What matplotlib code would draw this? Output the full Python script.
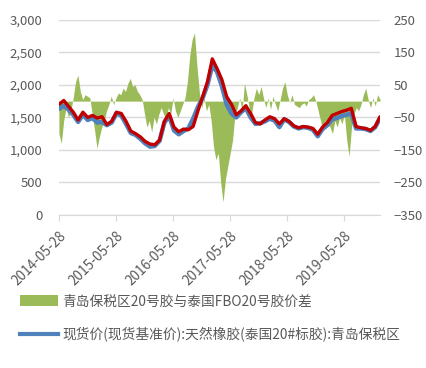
import matplotlib
matplotlib.use("Agg")
import matplotlib.pyplot as plt
from matplotlib.patches import Patch
from matplotlib.lines import Line2D
import pandas as pd

plt.rcParams['font.family'] = ['Noto Sans CJK SC', 'DejaVu Sans']

# monthly prices (USD/t)
red_price = [1700, 1760, 1670, 1580, 1460, 1580, 1500, 1530, 1490, 1510,
             1390, 1440, 1580, 1560, 1440, 1290, 1250, 1200, 1130, 1090,
             1080, 1150, 1440, 1560, 1350, 1280, 1320, 1310, 1360, 1600,
             1820, 2050, 2400, 2250, 2080, 1820, 1700, 1540, 1600, 1680,
             1560, 1420, 1400, 1460, 1510, 1480, 1400, 1480, 1440, 1370,
             1340, 1360, 1350, 1330, 1240, 1350, 1420, 1530, 1560, 1590,
             1610, 1640, 1360, 1340, 1330, 1300, 1360, 1510]
blue_price = [1630, 1680, 1620, 1540, 1430, 1540, 1460, 1490, 1420, 1430,
              1380, 1420, 1560, 1530, 1400, 1260, 1230, 1170, 1100, 1050,
              1060, 1140, 1420, 1520, 1300, 1240, 1290, 1330, 1480, 1660,
              1800, 2000, 2300, 2200, 1980, 1700, 1560, 1500, 1580, 1640,
              1500, 1400, 1410, 1440, 1480, 1450, 1350, 1470, 1430, 1360,
              1330, 1350, 1340, 1310, 1210, 1320, 1380, 1470, 1490, 1520,
              1540, 1560, 1330, 1330, 1320, 1290, 1350, 1490]

# semi-monthly spread
spread = [-100, -130, -60, -20, -50, -30, 10, 60, 80, 30,
          5, 20, 15, 10, -40, -90, -145, -110, -80, -60,
          -30, -10, 15, -10, 10, 25, 20, 40, 30, 55,
          70, 45, 50, 30, 20, 5, -40, -80, -60, -95,
          -50, -70, -40, -20, -40, -55, -20, -40, 10, -30,
          -50, -30, -10, 10, 60, 140, 190, 210, 110, 30,
          -20, 10, -30, -10, -60, -140, -180, -160, -250, -310,
          -240, -200, -160, -120, -40, -20, 10, -30, 55, 20,
          -20, -40, 10, 40, 20, 45, 10, -20, 10, -25,
          15, -10, -30, 5, 40, 60, 20, -5, 20, -10,
          -15, -20, -10, -5, -15, 5, 10, 20, 0, -30,
          -60, -90, -60, -70, -80, -100, -60, -80, -50, -70,
          -40, -120, -170, -80, -40, -20, -30, -10, 20, 40,
          5, -20, 10, -15, 20, 5]

tick_labels = ['2014-05-28', '2015-05-28', '2016-05-28',
               '2017-05-28', '2018-05-28', '2019-05-28']

price_dates = pd.date_range('2014-05-28', '2020-01-15', periods=len(red_price))
spread_dates = pd.date_range('2014-05-28', '2020-01-15', periods=len(spread))

green = '#9BBB59'
blue = '#4F81BD'
red = '#C00000'
gray = '#595959'

fig = plt.figure(figsize=(4.27, 3.68), dpi=100)
ax2 = fig.add_axes([0.138, 0.416, 0.752, 0.530])
ax = ax2.twinx()
ax.yaxis.tick_left()
ax2.yaxis.tick_right()

# spread area (back)
ax2.fill_between(spread_dates, 0, spread, color=green, lw=0)
ax2.set_ylim(-350, 250)
ax2.set_yticks([-350, -250, -150, -50, 50, 150, 250])
ax2.grid(axis='y', color='#D9D9D9', lw=1)
ax2.set_axisbelow(True)

# price lines (front)
ax.plot(price_dates, blue_price, color=blue, lw=3.2, solid_capstyle='round')
ax.plot(price_dates, red_price, color=red, lw=2.4, solid_capstyle='round')
ax.set_ylim(0, 3000)
ax.set_yticks(range(0, 3001, 500))
ax.yaxis.set_major_formatter(matplotlib.ticker.FuncFormatter(lambda v, p: f'{int(v):,}'))

ticks = pd.to_datetime(tick_labels)
for a in (ax, ax2):
    a.set_xlim(pd.Timestamp('2014-05-28'), pd.Timestamp('2020-01-15'))
    for s in a.spines.values():
        s.set_visible(False)
ax2.spines['bottom'].set_visible(True)
ax2.spines['bottom'].set_color('#D9D9D9')
ax2.spines['bottom'].set_position(('data', -350))

ax2.set_xticks(ticks)
ax2.set_xticklabels(tick_labels, rotation=45, ha='right', rotation_mode='anchor',
                    fontsize=9.8, color=gray)
ax2.tick_params(axis='x', length=4, color='#D9D9D9', pad=6)
ax.tick_params(axis='x', bottom=False, labelbottom=False)
ax.tick_params(axis='y', length=0, labelsize=9.5, labelcolor=gray, pad=12)
ax2.tick_params(axis='y', length=0, labelsize=9.5, labelcolor=gray, pad=10)

handles = [Patch(facecolor=green, edgecolor='none'),
           Line2D([0], [0], color=blue, lw=3)]
labels = ['青岛保税区20号胶与泰国FBO20号胶价差',
          '现货价(现货基准价):天然橡胶(泰国20#标胶):青岛保税区']
fig.legend(handles, labels, loc='upper left', bbox_to_anchor=(0.047, 0.2),
           frameon=False, fontsize=9.9, labelcolor=gray, handlelength=2.75,
           handleheight=0.9, labelspacing=1.35, handletextpad=0.35,
           borderpad=0, borderaxespad=0)

fig.savefig('out.png', dpi=100)
